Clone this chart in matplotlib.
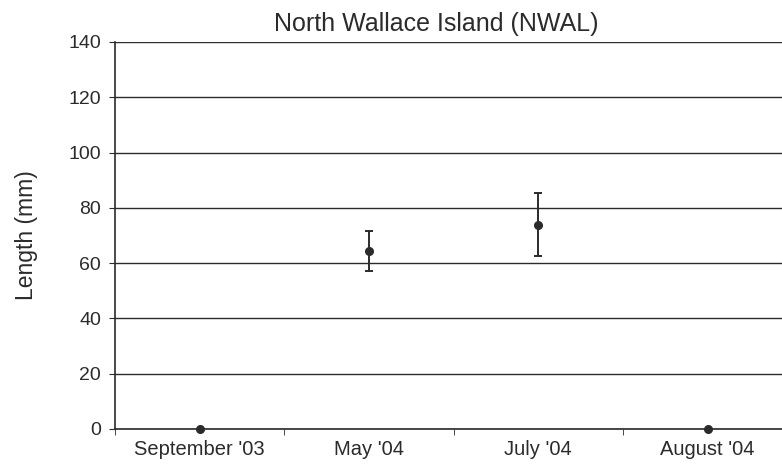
import matplotlib.pyplot as plt

plt.rcParams['font.family'] = ['Liberation Sans', 'DejaVu Sans']

months = ["September '03", "May '04", "July '04", "August '04"]
length_mean = [0, 64.5, 73.8, 0]
length_err = [0, 7.2, 11.4, 0]

fig = plt.figure(figsize=(7.82, 4.66), dpi=100)
ax = fig.add_axes([0.147, 0.0794, 0.866, 0.8306])

x = list(range(len(months)))
ink = "#2b2b2b"

# only draw error bars where there is a spread
for xi, m, e in zip(x, length_mean, length_err):
    if e > 0:
        ax.errorbar(xi, m, yerr=e, fmt="none", ecolor=ink, elinewidth=1.4,
                    capsize=3, capthick=1.4, zorder=3)
ax.plot(x, length_mean, "o", color=ink, markersize=5.5, linestyle="none",
        zorder=4, clip_on=False)

ax.set_xlim(-0.5, 3.5)
ax.set_ylim(0, 140)
ax.set_yticks(range(0, 141, 20))
ax.yaxis.grid(True, color=ink, linewidth=1.0)
ax.set_axisbelow(True)

ax.set_xticks(x)
ax.set_xticklabels(months)
ax.tick_params(axis="x", which="major", length=0, pad=8, labelsize=14.5, colors=ink)
ax.set_xticks([-0.5, 0.5, 1.5, 2.5], minor=True)
ax.tick_params(axis="x", which="minor", length=4, color=ink, direction="out")
ax.tick_params(axis="y", length=4, color=ink, labelsize=14, labelcolor=ink, pad=6)

for side in ["top", "right"]:
    ax.spines[side].set_visible(False)
for side in ["left", "bottom"]:
    ax.spines[side].set_color(ink)
    ax.spines[side].set_linewidth(1.2)

ax.set_title("North Wallace Island (NWAL)", fontsize=18, color=ink, pad=8, x=0.474)
ax.set_ylabel("Length (mm)", fontsize=16.5, color=ink, labelpad=22)

fig.savefig("out.png", dpi=100)
